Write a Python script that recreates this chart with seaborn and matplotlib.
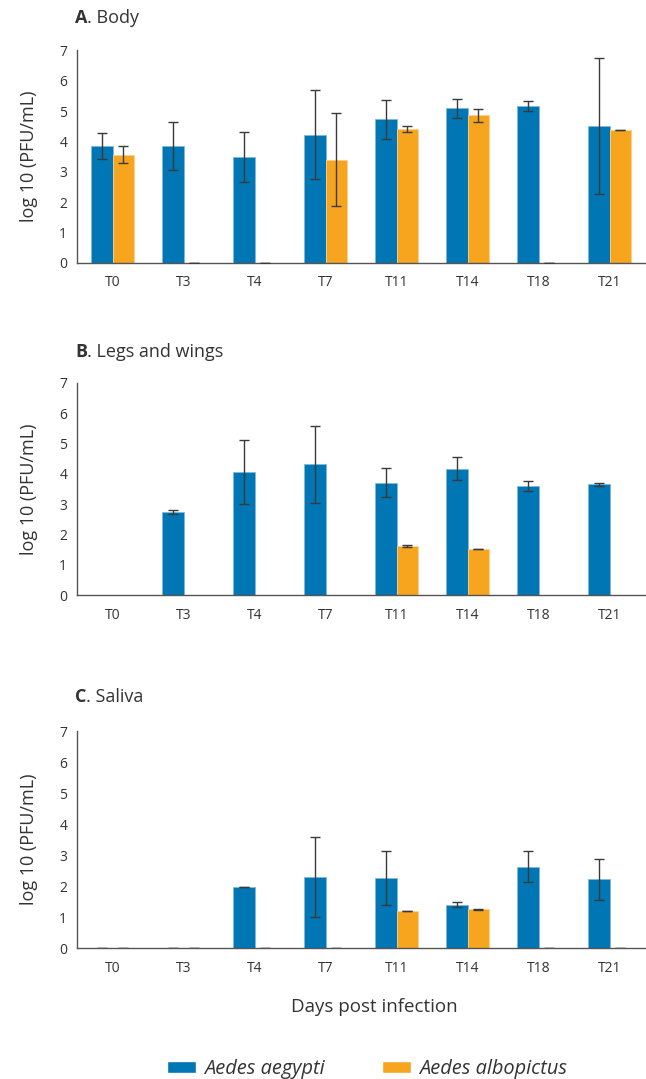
import numpy as np
import pandas as pd
import matplotlib.pyplot as plt
import seaborn as sns
from matplotlib.patches import Patch

days = ['T0', 'T3', 'T4', 'T7', 'T11', 'T14', 'T18', 'T21']
species = ['Aedes aegypti', 'Aedes albopictus']
nan = np.nan

# A. Body
body_aeg = [3.85, 3.85, 3.50, 4.23, 4.73, 5.10, 5.17, 4.50]
body_aeg_err = [0.44, 0.79, 0.83, 1.48, 0.65, 0.31, 0.16, 2.24]
body_alb = [3.57, 0, 0, 3.40, 4.41, 4.87, 0, 4.38]
body_alb_err = [0.28, 0, 0, 1.54, 0.10, 0.21, 0, 0.01]

# B. Legs and wings
legs_aeg = [0, 2.74, 4.07, 4.32, 3.71, 4.17, 3.59, 3.65]
legs_aeg_err = [nan, 0.07, 1.06, 1.27, 0.47, 0.37, 0.16, 0.06]
legs_alb = [0, 0, 0, 0, 1.62, 1.52, 0, 0]
legs_alb_err = [nan, nan, nan, nan, 0.02, 0.01, nan, nan]

# C. Saliva
saliva_aeg = [0, 0, 1.98, 2.30, 2.26, 1.41, 2.63, 2.23]
saliva_aeg_err = [0, 0, 0.01, 1.30, 0.87, 0.08, 0.50, 0.66]
saliva_alb = [0, 0, 0, 0, 1.20, 1.26, 0, 0]
saliva_alb_err = [0, 0, 0, 0, 0.01, 0.01, 0, 0]

panels = [
    ('A', '. Body', body_aeg, body_alb, body_aeg_err, body_alb_err, '#3a3a3a'),
    ('B', '. Legs and wings', legs_aeg, legs_alb, legs_aeg_err, legs_alb_err, '#3a3a3a'),
    ('C', '. Saliva', saliva_aeg, saliva_alb, saliva_aeg_err, saliva_alb_err, '#555555'),
]

blue = '#0076b4'
orange = '#f7a51e'
txt = '#333333'
axcol = '#555555'

sns.set_style('white')
plt.rcParams['font.family'] = ['Open Sans', 'DejaVu Sans']
plt.rcParams['text.color'] = txt
plt.rcParams['axes.labelcolor'] = txt
plt.rcParams['xtick.color'] = axcol
plt.rcParams['ytick.color'] = axcol

fig = plt.figure(figsize=(6.46, 10.79), dpi=100)

# axes boxes [left, bottom, width, height] in figure fraction
boxes = [
    [0.1192, 0.7563, 0.8793, 0.1969],
    [0.1192, 0.4483, 0.8793, 0.1970],
    [0.1192, 0.1211, 0.8793, 0.2014],
]
title_y = [0.983, 0.674, 0.354]

for (letter, rest, aeg, alb, aeg_err, alb_err, ecol), box, ty in zip(panels, boxes, title_y):
    ax = fig.add_axes(box)
    df = pd.DataFrame({
        'day': days * 2,
        'species': [species[0]] * len(days) + [species[1]] * len(days),
        'value': aeg + alb,
    })
    sns.barplot(data=df, x='day', y='value', hue='species', order=days,
                hue_order=species, palette=[blue, orange], width=0.6, gap=0,
                saturation=1, errorbar=None, legend=False, ax=ax, zorder=2)
    # light outline on bars
    for cont, ec in zip(ax.containers, ['#7fb8da', '#fbd08a']):
        for bar in cont:
            if bar.get_height() > 0:
                bar.set_edgecolor(ec)
                bar.set_linewidth(0.6)
            else:
                bar.set_linewidth(0)
    # error bars at bar centres
    for cont, errs in zip(ax.containers, [aeg_err, alb_err]):
        xs = [b.get_x() + b.get_width() / 2 for b in cont]
        ys = [b.get_height() for b in cont]
        for x, y, e in zip(xs, ys, errs):
            if np.isnan(e):
                continue
            ax.errorbar(x, y, yerr=e, fmt='none', ecolor=ecol if y == 0 else '#3a3a3a',
                        elinewidth=1.0, capsize=3.5, capthick=1.0, zorder=3)

    ax.set_ylim(0, 7)
    ax.set_xlim(-0.5, 7.5)
    ax.set_yticks(range(8))
    ax.set_xticks(np.arange(-0.5, 8, 1), minor=True)
    ax.tick_params(axis='x', which='major', length=0, pad=9, labelsize=10)
    ax.tick_params(axis='x', which='minor', length=5, width=1, direction='out')
    ax.tick_params(axis='y', length=4, width=1, direction='out', pad=3, labelsize=10)
    for lab in ax.get_xticklabels() + ax.get_yticklabels():
        lab.set_color(txt)
    sns.despine(ax=ax)
    for s in ['left', 'bottom']:
        ax.spines[s].set_color(axcol)
        ax.spines[s].set_linewidth(1.0)
    ax.set_xlabel('')
    ax.set_ylabel('log 10 (PFU/mL)', fontsize=13, labelpad=15)

    t = fig.text(0.116, ty, letter, fontsize=13, fontweight='bold', va='center')
    ax.annotate(rest, xy=(1, 0.5), xycoords=t, va='center', ha='left',
                fontsize=13, color=txt)

fig.text(0.579, 0.0667, 'Days post infection', fontsize=13.5, ha='center', va='center')

handles = [Patch(facecolor=blue), Patch(facecolor=orange)]
leg = fig.legend(handles, species, loc='center', bbox_to_anchor=(0.568, 0.0093),
                 ncol=2, frameon=False, prop={'style': 'italic', 'size': 14.4},
                 handlelength=1.45, handleheight=0.5, handletextpad=0.4,
                 columnspacing=2.85, borderpad=0)
for tx in leg.get_texts():
    tx.set_color(txt)

fig.savefig('out.png', dpi=100)
